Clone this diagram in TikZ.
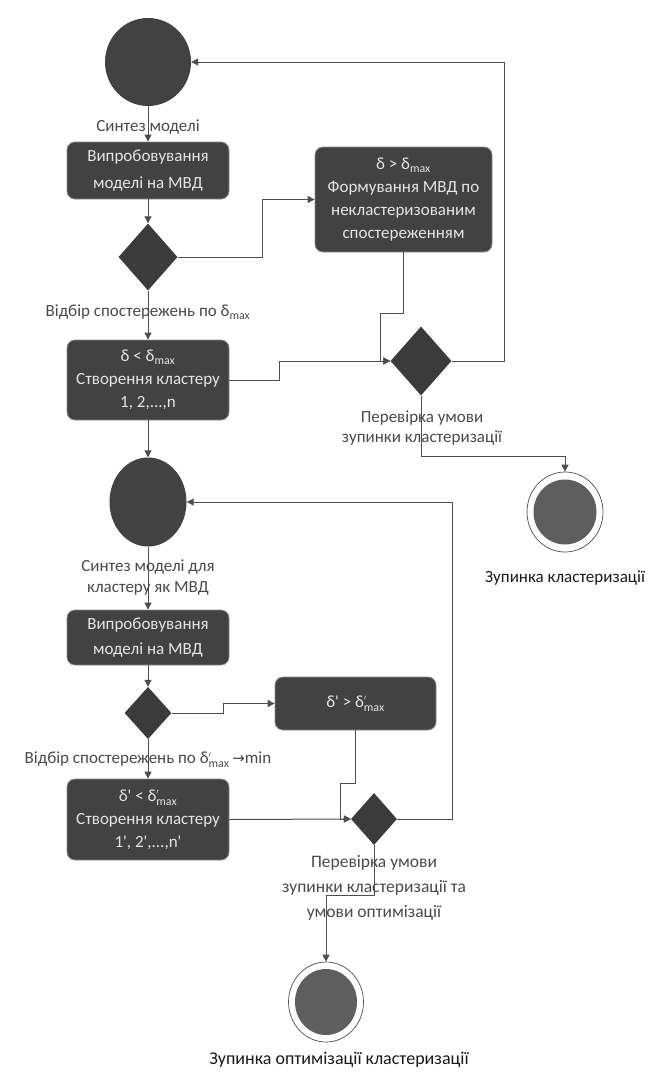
\documentclass[tikz,border=0pt]{standalone}
\usepackage{amsmath}
\usepackage{fontspec}
\setmainfont{Carlito}[Ligatures=TeXOff]
\newfontfamily\symfont{DejaVu Sans}
\usetikzlibrary{shapes.geometric,arrows.meta}
\definecolor{boxfill}{HTML}{424242}
\definecolor{boxedge}{HTML}{8A8A8A}
\definecolor{lineclr}{HTML}{4E4E4E}
\definecolor{labelclr}{HTML}{4A4A4A}
\definecolor{endfill}{HTML}{5E5E5E}
\newcommand{\pr}{{\char39}}
\newcommand{\dmax}{δ\textsubscript{max}}
\newcommand{\dpmax}{δ$^{\scriptscriptstyle\prime}_{\text{max}}$}
\tikzset{
  x=1pt,y=-1pt,
  stepbox/.style={draw=boxedge,line width=0.8pt,fill=boxfill,rounded corners=8pt,
    text=white!90!black,align=center,inner sep=0pt,font=\fontsize{17}{23}\selectfont},
  choice/.style={diamond,fill=boxfill!90!black,draw=none,inner sep=0pt},
  startdot/.style={ellipse,fill=boxfill,draw=none,inner sep=0pt},
  enddot/.style={ellipse,draw=lineclr,line width=0.7pt,fill=white,inner sep=0pt},
  endin/.style={ellipse,fill=endfill,draw=none,inner sep=0pt},
  lbl/.style={text=labelclr,align=center,inner sep=0pt,font=\fontsize{17}{21}\selectfont},
  endlbl/.style={text=black!90,align=center,inner sep=0pt,font=\fontsize{17}{21}\selectfont},
  arr/.style={draw=lineclr,line width=1pt,-{Triangle[width=7pt,length=7pt]}},
}
\begin{document}
\begin{tikzpicture}
\useasboundingbox[fill=white] (0,0) rectangle (658,1079);
% top part
\node[startdot,minimum width=86pt,minimum height=88pt] (c1) at (148,62) {};
\node[stepbox,minimum width=162pt,minimum height=57pt,font=\fontsize{17}{27}\selectfont] (b1) at (148,170.5) {Випробовування\\моделі на МВД};
\node[choice,minimum width=59pt,minimum height=67pt] (d1) at (148,257) {};
\node[stepbox,minimum width=177pt,minimum height=105pt] (b2) at (403.5,199.5) {δ > \dmax\\Формування МВД по\\некластеризованим\\спостереженням};
\node[stepbox,minimum width=162pt,minimum height=80pt] (b3) at (148,380) {δ < \dmax\\Створення кластеру\\1, 2,...,n};
\node[choice,minimum width=61pt,minimum height=69pt] (d2) at (421,361) {};
\node[enddot,minimum width=76pt,minimum height=80pt] (e1) at (565,512) {};
\node[endin,minimum width=63pt,minimum height=65pt] (e1i) at (565,512) {};
% bottom part
\node[startdot,minimum width=77pt,minimum height=89pt] (c2) at (148,502) {};
\node[stepbox,minimum width=162pt,minimum height=55pt,font=\fontsize{17}{25}\selectfont] (b4) at (148,637.5) {Випробовування\\моделі на МВД};
\node[choice,minimum width=47pt,minimum height=52pt] (d3) at (148,713) {};
\node[stepbox,minimum width=161pt,minimum height=53pt] (b5) at (355.5,703.5) {δ\pr{} > \dpmax};
\node[stepbox,minimum width=162pt,minimum height=81pt] (b6) at (148,819.5) {δ\pr{} < \dpmax\\Створення кластеру\\1\pr, 2\pr,...,n\pr};
\node[choice,minimum width=46pt,minimum height=52pt] (d4) at (374,819) {};
\node[enddot,minimum width=75pt,minimum height=80pt] (e2) at (326,1002) {};
\node[endin,minimum width=62pt,minimum height=66pt] (e2i) at (326,1002) {};
% routing points
\coordinate (p1) at (262,257);
\coordinate (p2) at (403.5,313);
\coordinate (p3) at (380,313);
\coordinate (p4) at (279,380);
\coordinate (p5) at (279,361);
\coordinate (p6) at (504,361);
\coordinate (p7) at (504,62);
\coordinate (p8) at (421,456);
\coordinate (q1) at (223,713);
\coordinate (q2) at (355.5,783);
\coordinate (q3) at (340,783);
\coordinate (q4) at (452,819);
\coordinate (q5) at (452,502);
\coordinate (q6) at (374,895);
% connectors top
\draw[arr] (c1) -- (b1);
\draw[arr] (b1) -- (d1);
\draw[arr] (d1) -- (b3);
\draw[arr] (d1.east) -- (p1) |- (b2.west);
\draw[arr] (b2.south) -- (p2) -- (p3) |- (d2.west);
\draw[arr] (b3.east) -- (p4) -- (p5) -- (d2.west);
\draw[arr] (d2.east) -- (p6) -- (p7) -- (c1.east);
\draw[arr] (d2.south) -- (p8) -| (e1.north);
\draw[arr] (b3) -- (c2);
% connectors bottom
\draw[arr] (c2) -- (b4);
\draw[arr] (b4) -- (d3);
\draw[arr] (d3) -- (b6);
\draw[arr] (d3.east) -- (q1) |- (b5.west);
\draw[arr] (b5.south) -- (q2) -- (q3) |- (d4.west);
\draw[arr] (b6.east) -- (d4.west);
\draw[arr] (d4.east) -- (q4) -- (q5) -- (c2.east);
\draw[arr] (d4.south) -- (q6) -| (e2.north);
% labels
\node[lbl] (t1) at (148,127) {Синтез моделі};
\node[lbl] (t2) at (148,312) {Відбір спостережень по \dmax};
\node[lbl,font=\fontsize{17}{20}\selectfont] (t3) at (422,428) {Перевірка умови\\зупинки кластеризації};
\node[endlbl] (t4) at (565,578) {Зупинка кластеризації};
\node[lbl] (t5) at (148,578) {Синтез моделі для\\кластеру як МВД};
\node[lbl] (t6) at (148,760) {Відбір спостережень по \dpmax\,{\symfont\fontsize{15}{15}\selectfont →}min};
\node[lbl,font=\fontsize{17.5}{25}\selectfont] (t7) at (374,888) {Перевірка умови\\зупинки кластеризації та\\умови оптимізації};
\node[endlbl,font=\fontsize{18}{22}\selectfont] (t8) at (339,1060) {Зупинка оптимізації кластеризації};
\end{tikzpicture}
\end{document}
